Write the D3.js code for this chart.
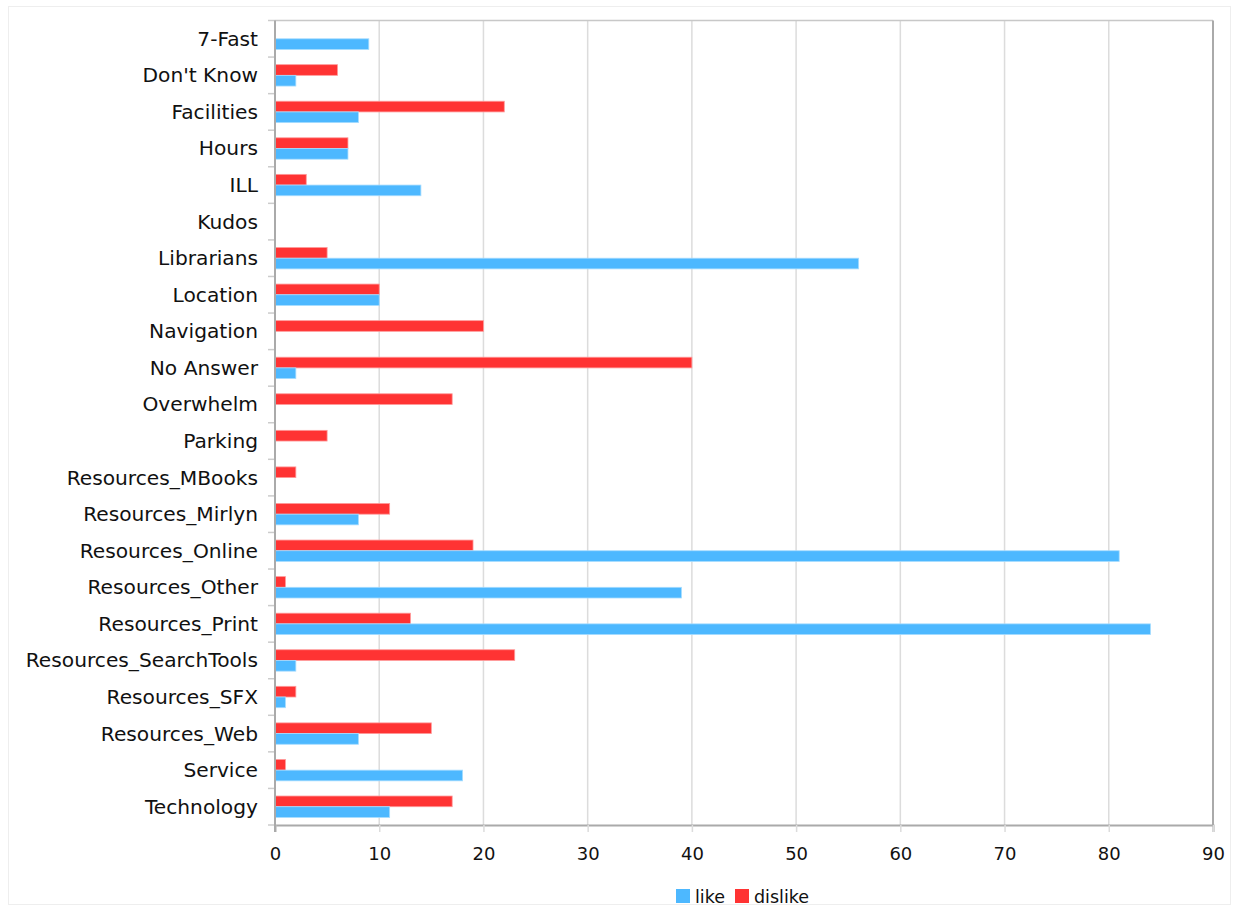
<!DOCTYPE html>
<html><head><meta charset="utf-8">
<script src="https://cdn.jsdelivr.net/npm/d3@7"></script>
<style>body{margin:0;background:#fff}svg{display:block}text{font-family:"DejaVu Sans",Verdana,sans-serif;fill:#111}</style>
</head><body><svg id="c" width="1238" height="911"></svg>
<script>
const categories=["7-Fast","Don't Know","Facilities","Hours","ILL","Kudos","Librarians","Location","Navigation","No Answer","Overwhelm","Parking","Resources_MBooks","Resources_Mirlyn","Resources_Online","Resources_Other","Resources_Print","Resources_SearchTools","Resources_SFX","Resources_Web","Service","Technology"];
const like=[9,2,8,7,14,0,56,10,0,2,0,0,0,8,81,39,84,2,1,8,18,11];
const dislike=[0,6,22,7,3,0,5,10,20,40,17,5,2,11,19,1,13,23,2,15,1,17];
const xTicks=[0,10,20,30,40,50,60,70,80,90];
const seriesNames=["like","dislike"];
const colors={like:"#4db8ff",dislike:"#ff3333"};

const svg=d3.select("#c");
const L=275,R=1213,T=20.5,B=825;
svg.append("rect").attr("x",8.5).attr("y",6.5).attr("width",1222).attr("height",898).attr("fill","none").attr("stroke","#eeeeee");
const x=d3.scaleLinear().domain([0,90]).range([L,R]);
const y=d3.scaleBand().domain(categories).range([T,B]);
const sub=d3.scaleBand().domain(["dislike","like"]).range([0,y.bandwidth()]).paddingOuter(0.71).paddingInner(0);

// gridlines
svg.append("g").selectAll("line").data(xTicks.filter(d=>d>0&&d<90)).join("line")
 .attr("x1",d=>x(d)).attr("x2",d=>x(d)).attr("y1",T).attr("y2",B).attr("stroke","#dcdcdc").attr("stroke-width",1.5);
// frame
svg.append("line").attr("x1",L).attr("x2",R).attr("y1",T).attr("y2",T).attr("stroke","#c8c8c8").attr("stroke-width",1.5);
svg.append("line").attr("x1",R).attr("x2",R).attr("y1",T).attr("y2",B).attr("stroke","#aaaaaa").attr("stroke-width",2);

// bars
const g=svg.append("g");
categories.forEach((c,i)=>{
  [["dislike",dislike[i]],["like",like[i]]].forEach(([s,v])=>{
    if(v<=0)return;
    g.append("rect").attr("x",x(0)).attr("y",y(c)+sub(s)).attr("width",x(v)-x(0)).attr("height",sub.bandwidth())
     .attr("fill",colors[s]).attr("stroke",s==="like"?"#a6dcff":"#ff9a9a").attr("stroke-width",0.8);
  });
});

// x axis
const xa=svg.append("g").attr("transform",`translate(0,${B})`)
 .call(d3.axisBottom(x).tickValues(xTicks).tickSize(7).tickPadding(15).tickFormat(d3.format("d")));
xa.select(".domain").attr("stroke","#aaaaaa").attr("stroke-width",2);
xa.selectAll(".tick line").attr("stroke","#dcdcdc").attr("stroke-width",1.5);
xa.selectAll("text").attr("font-size",18).attr("fill","#111").style("font-family","DejaVu Sans, Verdana, sans-serif");

// y axis
svg.append("g").selectAll("line").data(d3.range(categories.length+1)).join("line")
 .attr("x1",L-7).attr("x2",L).attr("y1",i=>T+i*y.step()).attr("y2",i=>T+i*y.step()).attr("stroke","#cccccc").attr("stroke-width",1.5);
svg.append("line").attr("x1",L).attr("x2",L).attr("y1",T).attr("y2",B+7).attr("stroke","#aaaaaa").attr("stroke-width",2);
svg.append("g").selectAll("text").data(categories).join("text")
 .attr("x",258).attr("y",d=>y(d)+y.bandwidth()/2+7).attr("text-anchor","end")
 .attr("font-size",20.2).text(d=>d);

// legend
const lg=svg.append("g");
const items=[{n:"like",x:676},{n:"dislike",x:735}];
items.forEach(it=>{
  lg.append("rect").attr("x",it.x).attr("y",889).attr("width",14).attr("height",14).attr("fill",colors[it.n]);
  lg.append("text").attr("x",it.x+19).attr("y",903).attr("font-size",17.5).text(it.n);
});
</script></body></html>
